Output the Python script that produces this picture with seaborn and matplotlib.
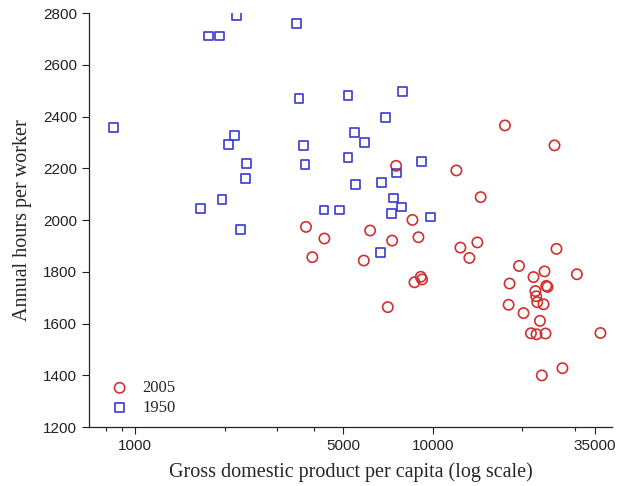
import numpy as np
import pandas as pd
import matplotlib
matplotlib.use("Agg")
import matplotlib.pyplot as plt
import matplotlib.ticker as mticker
import seaborn as sns

# GDP per capita and annual hours
gdp_1950 = [2188, 3481, 1764, 1924, 3550, 844, 2155, 2057, 2363, 2345, 1958,
            1653, 2262, 5186, 7936, 6924, 5471, 5912, 3682, 5186, 3720, 9163,
            7569, 5488, 6725, 7398, 7852, 4308, 4853, 7285, 9853, 6677]
hours_1950 = [2790, 2760, 2712, 2712, 2470, 2359, 2326, 2292, 2220, 2160, 2080,
              2045, 1964, 2483, 2496, 2397, 2339, 2300, 2287, 2243, 2214, 2227,
              2182, 2139, 2147, 2086, 2051, 2039, 2039, 2027, 2012, 1875]

gdp_2005 = [7532, 12010, 14490, 3749, 4323, 6160, 8547, 7304, 8954, 3938, 5865,
            12390, 14125, 13280, 9116, 9209, 8682, 7063, 17490, 25665, 26060,
            19500, 23757, 21817, 30518, 18126, 24077, 24315, 22138, 22272, 22458,
            23576, 17991, 20195, 22930, 21389, 22334, 23941, 36624, 27293, 23264]
hours_2005 = [2210, 2192, 2089, 1974, 1929, 1960, 2001, 1921, 1934, 1857, 1844,
              1894, 1914, 1854, 1781, 1771, 1760, 1664, 2366, 2289, 1889,
              1823, 1802, 1780, 1791, 1755, 1746, 1742, 1726, 1706, 1683,
              1675, 1673, 1641, 1611, 1563, 1559, 1562, 1564, 1428, 1400]

x_major = [1000, 5000, 10000, 35000]
x_minor = [800, 900, 2000, 3000, 4000, 20000, 30000]
y_ticks = [1200, 1400, 1600, 1800, 2000, 2200, 2400, 2600, 2800]

df05 = pd.DataFrame({"gdp": gdp_2005, "hours": hours_2005})
df50 = pd.DataFrame({"gdp": gdp_1950, "hours": hours_1950})

sns.set_style("ticks")
plt.rcParams["font.family"] = ["Liberation Sans", "DejaVu Sans"]

fig = plt.figure(figsize=(6.18, 4.86), dpi=100)
ax = fig.add_axes([0.144, 0.121, 0.846, 0.852])

red = "#d03030"
blue = "#3a3ad0"
sns.scatterplot(data=df05, x="gdp", y="hours", marker="o", s=55,
                facecolor="none", edgecolor=red, linewidth=1.2,
                label="2005", ax=ax)
sns.scatterplot(data=df50, x="gdp", y="hours", marker="s", s=40,
                facecolor="none", edgecolor=blue, linewidth=1.2,
                label="1950", ax=ax)

ax.set_xscale("log")
ax.set_xlim(699, 40000)
ax.set_ylim(1200, 2800)
ax.set_xticks(x_major)
ax.set_xticks(x_minor, minor=True)
ax.xaxis.set_major_formatter(mticker.FixedFormatter([str(v) for v in x_major]))
ax.xaxis.set_minor_formatter(mticker.NullFormatter())
ax.set_yticks(y_ticks)
ax.tick_params(axis="both", which="major", labelsize=11, length=5, width=0.8,
               direction="out", colors="#222222")
ax.tick_params(axis="x", which="minor", length=3, width=0.8, direction="out")

sns.despine(ax=ax)
for sp in ["left", "bottom"]:
    ax.spines[sp].set_linewidth(0.9)
    ax.spines[sp].set_color("#222222")

ax.set_xlabel("Gross domestic product per capita (log scale)",
              family="Liberation Serif", fontsize=14.5, labelpad=7)
ax.set_ylabel("Annual hours per worker", family="Liberation Serif",
              fontsize=14.5, labelpad=8)

leg = ax.legend(loc="lower left", bbox_to_anchor=(0.014, 0.0), frameon=False,
                prop={"family": "Liberation Serif", "size": 12},
                handlelength=1.4, handletextpad=0.65, borderaxespad=0.3,
                labelspacing=0.2)

fig.savefig("out.png", dpi=100)
